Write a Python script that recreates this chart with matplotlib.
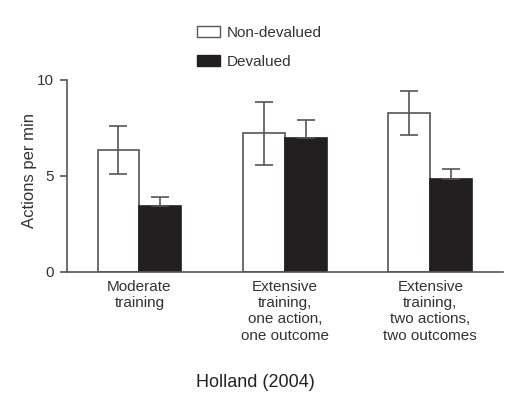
import matplotlib
matplotlib.use('Agg')
import matplotlib.pyplot as plt
import numpy as np
from matplotlib.patches import Patch

plt.rcParams['font.family'] = ['Liberation Sans', 'DejaVu Sans']

groups = ['Moderate\ntraining',
          'Extensive\ntraining,\none action,\none outcome',
          'Extensive\ntraining,\ntwo actions,\ntwo outcomes']
nondev = [6.35, 7.22, 8.30]
nondev_err = [1.25, 1.65, 1.15]
dev = [3.43, 6.99, 4.82]
dev_err = [0.48, 0.92, 0.52]

ink = '#333333'
fig = plt.figure(figsize=(5.11, 3.96), dpi=100)
ax = fig.add_axes([0.1305, 0.314, 0.854, 0.484])

x = np.arange(len(groups))
w = 0.288
ebar = dict(ecolor='#555555', elinewidth=1.2, capsize=6.5, capthick=1.2)
ax.bar(x - w / 2, nondev, w, color='white', edgecolor='#555555', linewidth=1.2,
       yerr=nondev_err, error_kw=ebar)
ax.bar(x + w / 2, dev, w, color='#231f20', edgecolor='#231f20', linewidth=1.2,
       yerr=[np.zeros(3), dev_err], error_kw=ebar)

ax.set_xlim(-0.5, 2.5)
ax.set_ylim(0, 10)
ax.set_yticks([0, 5, 10])
ax.set_xticks(x)
ax.set_xticklabels(groups, fontsize=11, color=ink, linespacing=1.2)
ax.tick_params(axis='x', length=0, pad=6)
ax.tick_params(axis='y', length=5, width=1.2, colors='#555555', labelcolor=ink, labelsize=11, pad=4)
ax.set_ylabel('Actions per min', fontsize=12, color=ink)
ax.yaxis.set_label_coords(-0.068, 0.53)
for s in ['top', 'right']:
    ax.spines[s].set_visible(False)
for s in ['left', 'bottom']:
    ax.spines[s].set_color('#555555')
    ax.spines[s].set_linewidth(1.2)

handles = [Patch(facecolor='white', edgecolor='#555555', label='Non-devalued'),
           Patch(facecolor='#231f20', edgecolor='#231f20', label='Devalued')]
leg = fig.legend(handles=handles, loc='upper left', bbox_to_anchor=(0.358, 0.97),
                 frameon=False, fontsize=11, handlelength=1.5, handleheight=0.7,
                 labelspacing=1.0, handletextpad=0.45)
for t in leg.get_texts():
    t.set_color(ink)

fig.text(0.5, 0.035, 'Holland (2004)', ha='center', va='center', fontsize=13, color='#222222')

fig.savefig('out.png', dpi=100)
